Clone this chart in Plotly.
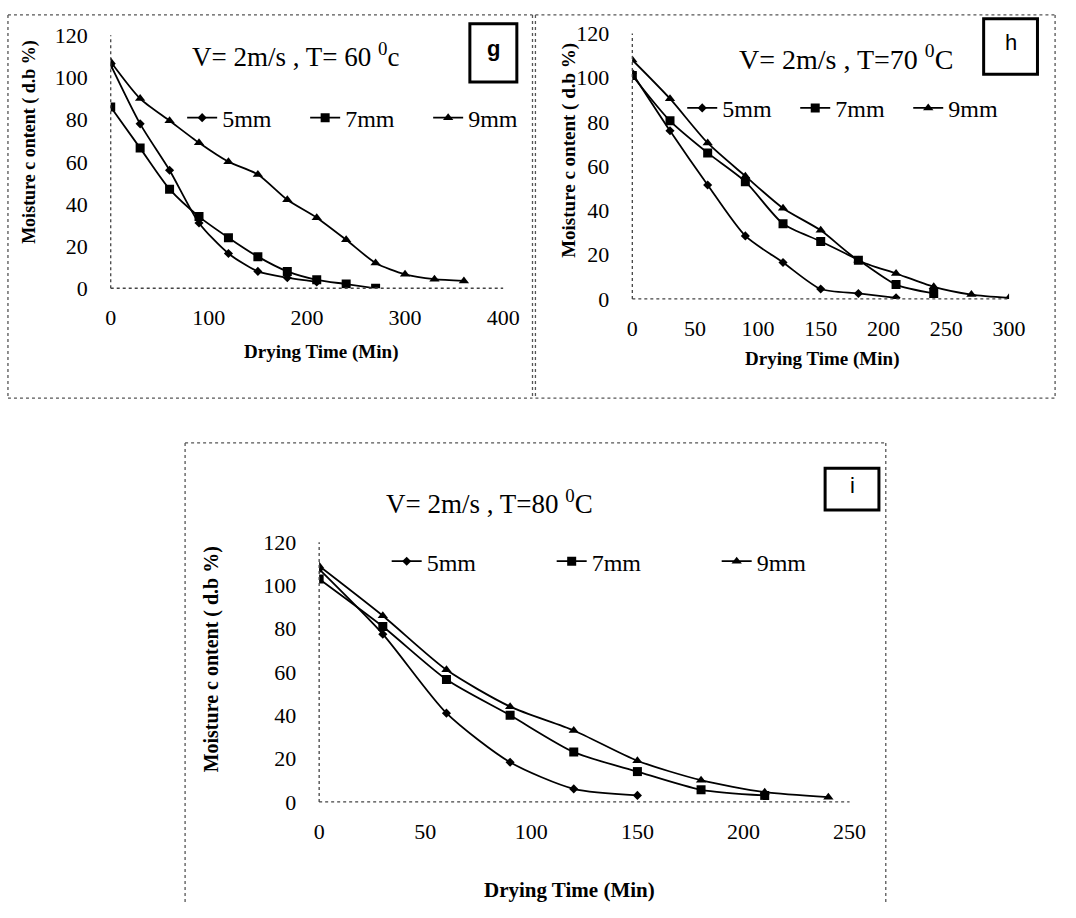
import plotly.graph_objects as go

W, H = 1076, 918

# ---------------- data ----------------
time_g = [0, 30, 60, 90, 120, 150, 180, 210, 240, 270, 300, 330, 360]
g_5mm = [106, 78, 56, 31, 16.5, 8, 5, 3]
g_7mm = [86, 66.5, 47, 34, 24, 15, 8, 4, 2, 0]
g_9mm = [107.5, 90, 79.5, 69, 60, 54, 42, 33.5, 23, 12, 6.6, 4.3, 3.5]

time_h = [0, 30, 60, 90, 120, 150, 180, 210, 240, 270, 300]
h_5mm = [102, 76, 51.5, 28.5, 16.5, 4.5, 2.5, 0.5]
h_7mm = [101, 80.5, 66, 53, 34, 26, 17.5, 6.5, 2.5]
h_9mm = [108, 90.5, 70.5, 55.5, 41, 31, 17.5, 11.5, 5.5, 2, 0.5]

time_i = [0, 30, 60, 90, 120, 150, 180, 210, 240]
i_5mm = [107.5, 77.5, 41, 18.3, 6, 3]
i_7mm = [103, 81, 56.5, 40, 23, 14, 5.6, 3]
i_9mm = [109, 86, 61, 44, 33, 19, 10, 4.5, 2.2]

series_names = ["5mm", "7mm", "9mm"]
symbols = ["diamond", "square", "triangle-up"]
msizes = [7, 9, 9]

xticks_g = [0, 100, 200, 300, 400]
xticks_h = [0, 50, 100, 150, 200, 250, 300]
xticks_i = [0, 50, 100, 150, 200, 250]
yticks = [0, 20, 40, 60, 80, 100, 120]

# ---------------- helpers ----------------
def px(x):
    return x / W

def py(y):
    return 1 - y / H

SERIF = "Liberation Serif, Times New Roman, serif"
SANS = "Liberation Sans, Arial, sans-serif"

fig = go.Figure()

panels = [
    dict(t=time_g, data=[g_5mm, g_7mm, g_9mm], ax="", leg="legend",
         xd=(107, 508), yd=(24, 284), xr=[0, 400], xt=xticks_g),
    dict(t=time_h, data=[h_5mm, h_7mm, h_9mm], ax="2", leg="legend2",
         xd=(640, 1025), yd=(22, 295), xr=[0, 300], xt=xticks_h),
    dict(t=time_i, data=[i_5mm, i_7mm, i_9mm], ax="3", leg="legend3",
         xd=(320, 862), yd=(545, 812), xr=[0, 250], xt=xticks_i),
]

for p in panels:
    for k, vals in enumerate(p["data"]):
        fig.add_trace(go.Scatter(
            x=p["t"][:len(vals)], y=vals, name=series_names[k],
            mode="lines+markers",
            line=dict(color="black", width=1.8, shape="spline", smoothing=0.7),
            marker=dict(symbol=symbols[k], size=msizes[k], color="black"),
            xaxis="x" + p["ax"], yaxis="y" + p["ax"], legend=p["leg"],
        ))

layout = dict(
    width=W, height=H, margin=dict(l=0, r=0, t=0, b=0),
    paper_bgcolor="white", plot_bgcolor="white",
    font=dict(family=SERIF, color="black", size=22),
)

for p in panels:
    xa = dict(domain=[px(p["xd"][0]), px(p["xd"][1])], range=p["xr"],
              tickvals=p["xt"], showgrid=False, zeroline=False, showline=False,
              ticks="", ticklabelstandoff=14,
              tickfont=dict(family=SERIF, size=22, color="black"),
              anchor="y" + p["ax"], fixedrange=True)
    ya = dict(domain=[py(p["yd"][1]), py(p["yd"][0])], range=[0, 120],
              tickvals=yticks, showgrid=False, zeroline=False, showline=False,
              ticks="", ticklabelstandoff=22,
              tickfont=dict(family=SERIF, size=22, color="black"),
              anchor="x" + p["ax"], fixedrange=True)
    layout["xaxis" + p["ax"]] = xa
    layout["yaxis" + p["ax"]] = ya

legend_pos = {"legend": (180, 109, 78), "legend2": (691, 99, 68), "legend3": (389, 565, 120)}
for name, (lx, ly, ew) in legend_pos.items():
    layout[name] = dict(
        x=px(lx), y=py(ly), xanchor="left", yanchor="middle",
        orientation="h", bgcolor="rgba(0,0,0,0)",
        font=dict(family=SERIF, size=24, color="black"),
        entrywidth=ew, entrywidthmode="pixels", itemwidth=30,
        tracegroupgap=0,
    )

fig.update_layout(**layout)

shapes = []
# dotted axis lines
for p in panels:
    xr, yr = "x" + p["ax"] + " domain", "y" + p["ax"] + " domain"
    shapes.append(dict(type="line", xref=xr, yref=yr, x0=0, x1=0, y0=0, y1=1,
                       line=dict(color="#444", width=1.3, dash="dot")))
    shapes.append(dict(type="line", xref=xr, yref=yr, x0=0, x1=1, y0=0, y1=0,
                       line=dict(color="#444", width=1.3, dash="dot")))

# panel borders (dotted)
def dotted_rect(x0, y0, x1, y1, sides="lrtb"):
    segs = {"l": (x0, y0, x0, y1), "r": (x1, y0, x1, y1),
            "t": (x0, y0, x1, y0), "b": (x0, y1, x1, y1)}
    for s in sides:
        a, b, c, d = segs[s]
        shapes.append(dict(type="line", xref="paper", yref="paper",
                           x0=px(a), y0=py(b), x1=px(c), y1=py(d),
                           line=dict(color="#555", width=1.3, dash="dot")))

dotted_rect(2, 3, 538, 397)
dotted_rect(541, 3, 1072, 397)
dotted_rect(183, 443, 899, 918, sides="lrt")

# letter boxes
boxes = [(474, 12, 522, 72, "g", True), (999, 7, 1054, 64, "h", False),
         (837, 469, 892, 512, "i", False)]
annotations = []
for (x0, y0, x1, y1, lab, bold) in boxes:
    shapes.append(dict(type="rect", xref="paper", yref="paper",
                       x0=px(x0), y0=py(y1), x1=px(x1), y1=py(y0),
                       line=dict(color="black", width=3), fillcolor="white"))
    annotations.append(dict(text=("<b>%s</b>" % lab) if bold else lab,
                            x=px((x0 + x1) / 2), y=py((y0 + y1) / 2 - 4),
                            xref="paper", yref="paper", showarrow=False,
                            xanchor="center", yanchor="middle",
                            font=dict(family=SANS, size=22, color="black")))

titles = [
    ("V= 2m/s , T= 60 <sup>0</sup>c", 296, 44, 27),
    ("V= 2m/s , T=70 <sup>0</sup>C", 858, 47, 28),
    ("V= 2m/s , T=80 <sup>0</sup>C", 494, 504, 27),
]
for txt, x, y, s in titles:
    annotations.append(dict(text=txt, x=px(x), y=py(y), xref="paper", yref="paper",
                            showarrow=False, xanchor="center", yanchor="middle",
                            font=dict(family=SERIF, size=s, color="black")))

xtitles = [(322, 350, 19), (834, 357, 19), (576, 903, 21)]
for x, y, s in xtitles:
    annotations.append(dict(text="<b>Drying Time (Min)</b>", x=px(x), y=py(y),
                            xref="paper", yref="paper", showarrow=False,
                            xanchor="center", yanchor="middle",
                            font=dict(family=SERIF, size=s, color="black")))

ytitles = [(24, 133, 18), (575, 142, 19), (210, 666, 20)]
for x, y, s in ytitles:
    annotations.append(dict(text="<b>Moisture c ontent ( d.b %)</b>", x=px(x), y=py(y),
                            xref="paper", yref="paper", showarrow=False, textangle=-90,
                            xanchor="center", yanchor="middle",
                            font=dict(family=SERIF, size=s, color="black")))

fig.update_layout(shapes=shapes, annotations=annotations, showlegend=True)

fig.write_html("out.html")
